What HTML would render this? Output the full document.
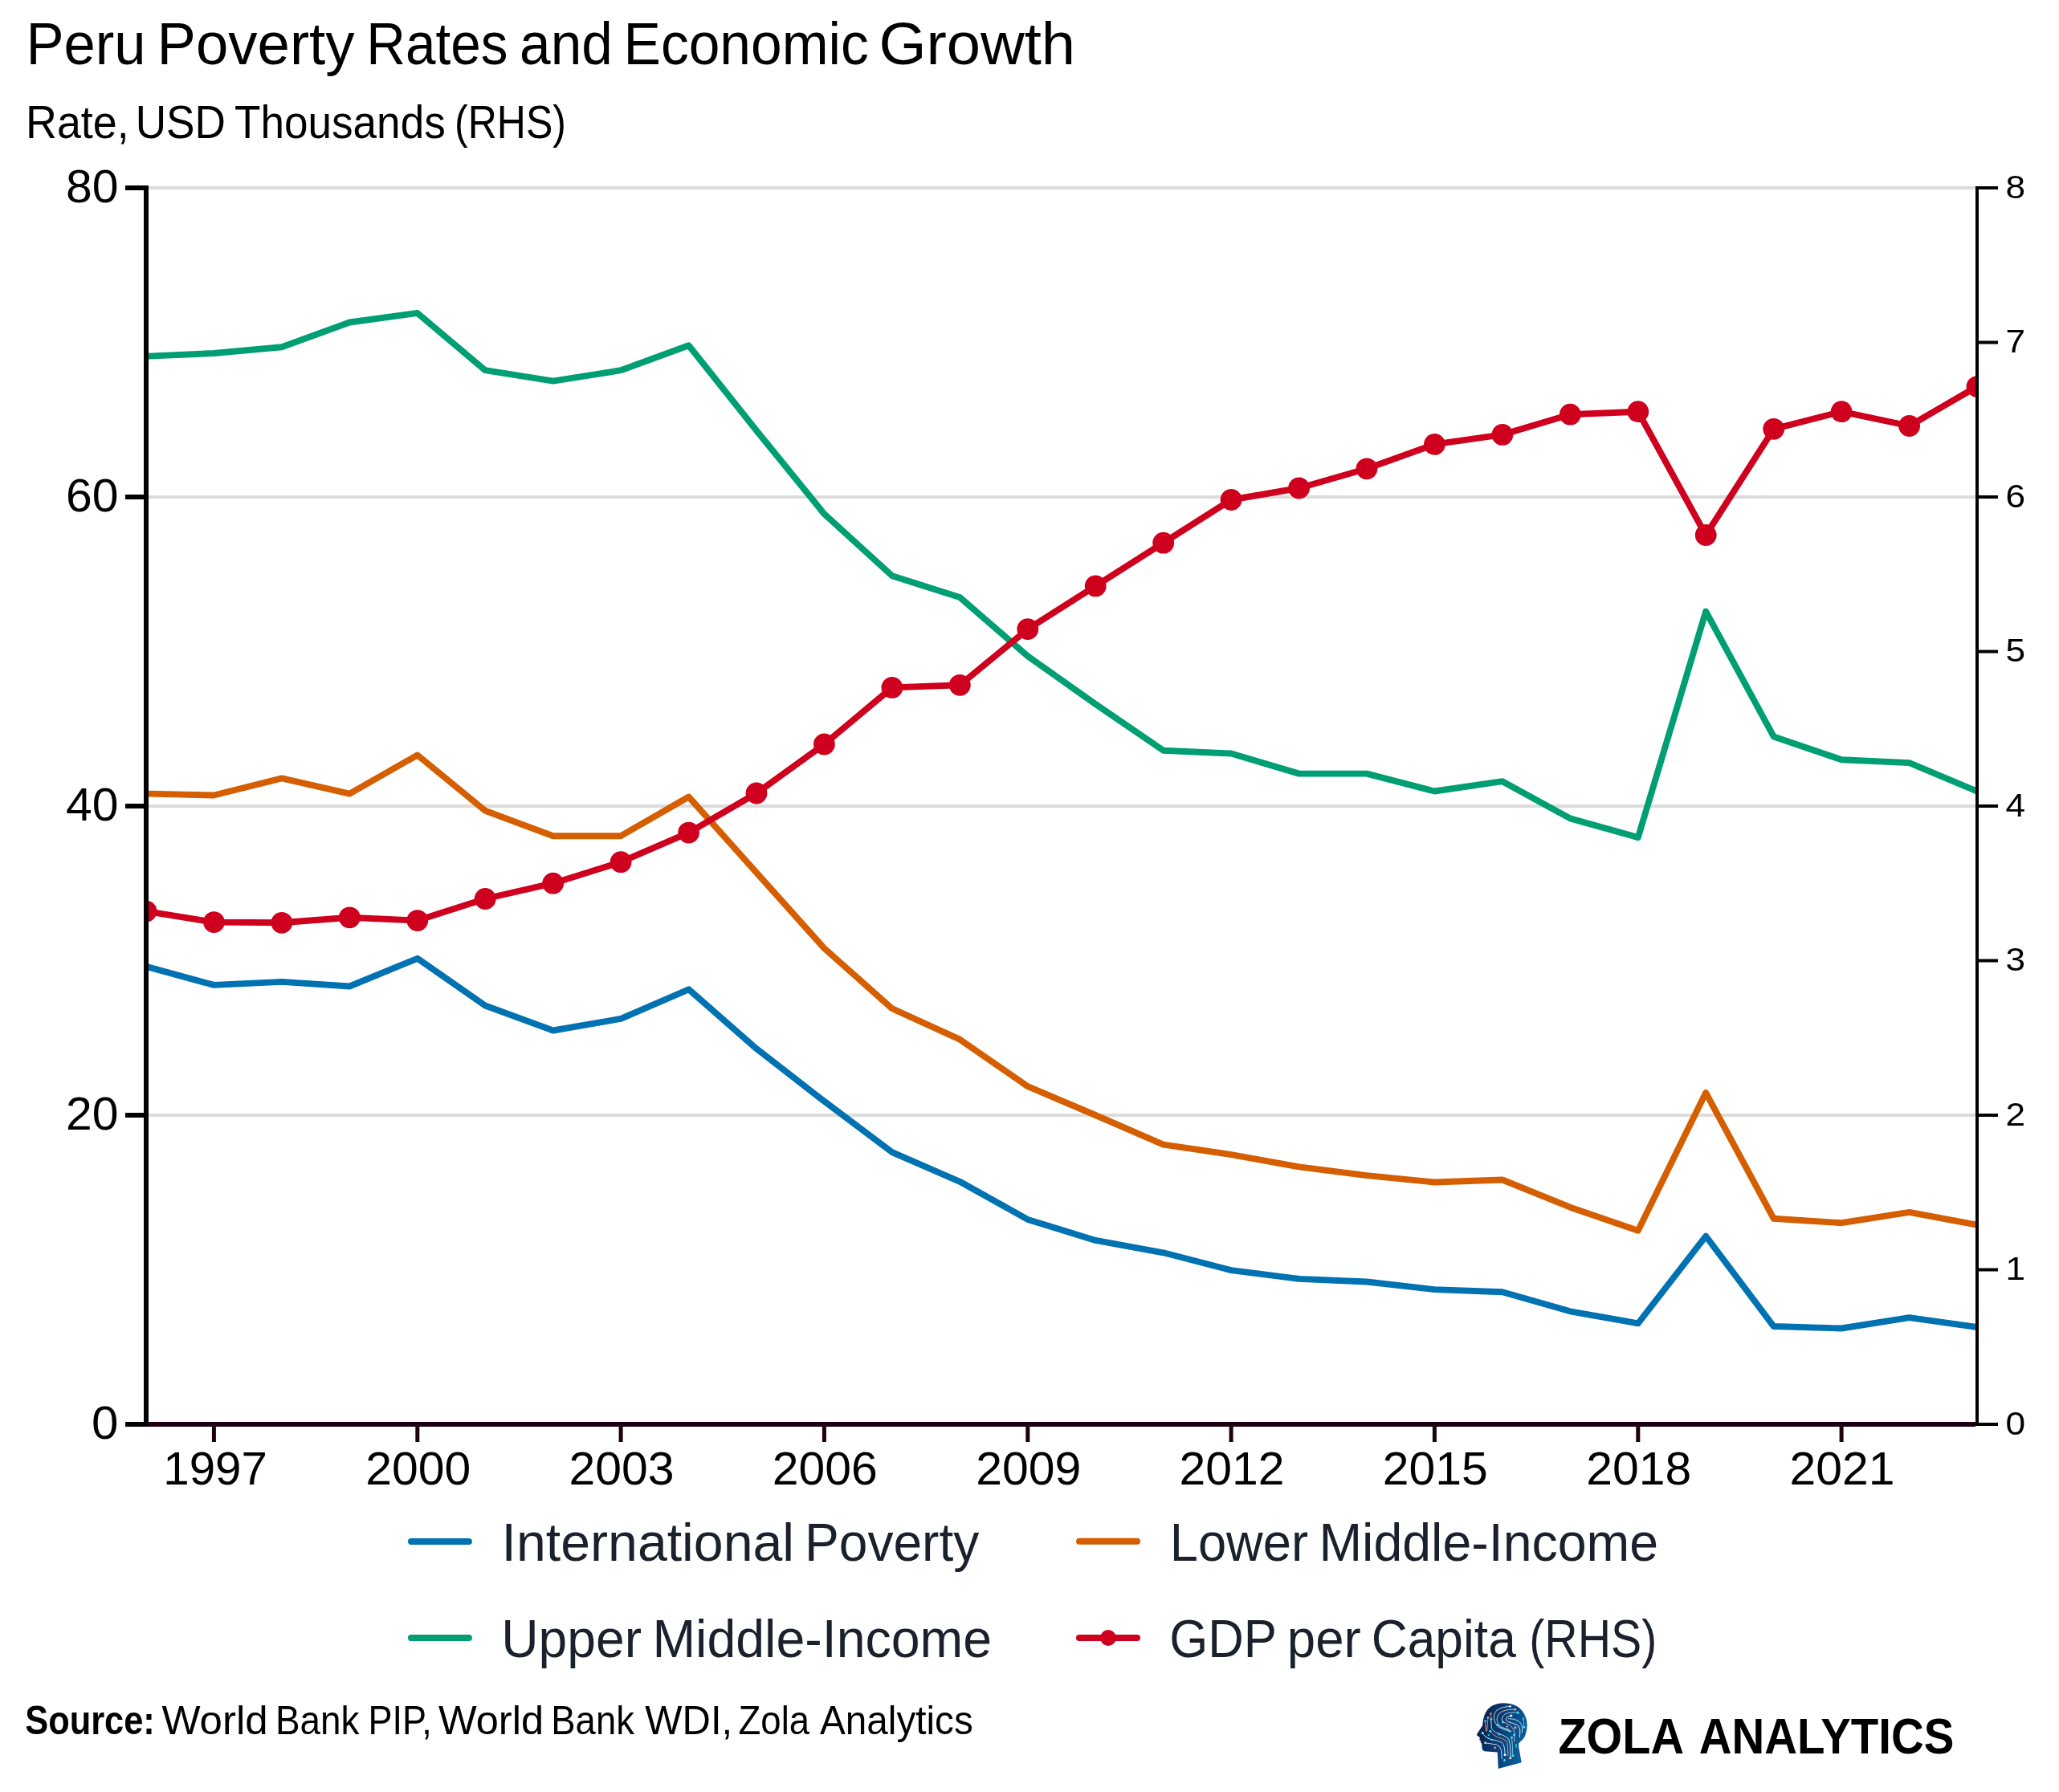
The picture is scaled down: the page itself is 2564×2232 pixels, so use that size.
<!DOCTYPE html><html><head><meta charset="utf-8"><style>html,body{margin:0;padding:0;background:#fff;width:2564px;height:2232px;overflow:hidden}svg{display:block;will-change:transform}text{font-family:"Liberation Sans",sans-serif}</style></head><body>
<svg width="2564" height="2232" viewBox="0 0 2564 2232">
<rect width="2564" height="2232" fill="#fff"/>
<text x="32.4" y="79.7" font-size="74" fill="#000" font-weight="normal" text-anchor="start" textLength="149.1" lengthAdjust="spacingAndGlyphs">Peru</text>
<text x="195.6" y="79.7" font-size="74" fill="#000" font-weight="normal" text-anchor="start" textLength="245.9" lengthAdjust="spacingAndGlyphs">Poverty</text>
<text x="456.3" y="79.7" font-size="74" fill="#000" font-weight="normal" text-anchor="start" textLength="176.2" lengthAdjust="spacingAndGlyphs">Rates</text>
<text x="647.1" y="79.7" font-size="74" fill="#000" font-weight="normal" text-anchor="start" textLength="115.8" lengthAdjust="spacingAndGlyphs">and</text>
<text x="776.5" y="79.7" font-size="74" fill="#000" font-weight="normal" text-anchor="start" textLength="305.3" lengthAdjust="spacingAndGlyphs">Economic</text>
<text x="1094.4" y="79.7" font-size="74" fill="#000" font-weight="normal" text-anchor="start" textLength="244.7" lengthAdjust="spacingAndGlyphs">Growth</text>
<text x="32.0" y="171.5" font-size="57" fill="#000" font-weight="normal" text-anchor="start" textLength="128.7" lengthAdjust="spacingAndGlyphs">Rate,</text>
<text x="168.7" y="171.5" font-size="57" fill="#000" font-weight="normal" text-anchor="start" textLength="112.2" lengthAdjust="spacingAndGlyphs">USD</text>
<text x="292.1" y="171.5" font-size="57" fill="#000" font-weight="normal" text-anchor="start" textLength="262.6" lengthAdjust="spacingAndGlyphs">Thousands</text>
<text x="566.0" y="171.5" font-size="57" fill="#000" font-weight="normal" text-anchor="start" textLength="138.9" lengthAdjust="spacingAndGlyphs">(RHS)</text>
<text x="624.6" y="1943.8" font-size="67" fill="#1a202c" font-weight="normal" text-anchor="start" textLength="364.4" lengthAdjust="spacingAndGlyphs">International</text>
<text x="1002.1" y="1943.8" font-size="67" fill="#1a202c" font-weight="normal" text-anchor="start" textLength="217.2" lengthAdjust="spacingAndGlyphs">Poverty</text>
<text x="624.2" y="2063.8" font-size="67" fill="#1a202c" font-weight="normal" text-anchor="start" textLength="174.9" lengthAdjust="spacingAndGlyphs">Upper</text>
<text x="812.4" y="2063.8" font-size="67" fill="#1a202c" font-weight="normal" text-anchor="start" textLength="422.7" lengthAdjust="spacingAndGlyphs">Middle-Income</text>
<text x="1456.7" y="1943.8" font-size="67" fill="#1a202c" font-weight="normal" text-anchor="start" textLength="172.4" lengthAdjust="spacingAndGlyphs">Lower</text>
<text x="1642.4" y="1943.8" font-size="67" fill="#1a202c" font-weight="normal" text-anchor="start" textLength="422.7" lengthAdjust="spacingAndGlyphs">Middle-Income</text>
<text x="1456.2" y="2063.8" font-size="67" fill="#1a202c" font-weight="normal" text-anchor="start" textLength="133.7" lengthAdjust="spacingAndGlyphs">GDP</text>
<text x="1602.8" y="2063.8" font-size="67" fill="#1a202c" font-weight="normal" text-anchor="start" textLength="91.9" lengthAdjust="spacingAndGlyphs">per</text>
<text x="1707.7" y="2063.8" font-size="67" fill="#1a202c" font-weight="normal" text-anchor="start" textLength="180.1" lengthAdjust="spacingAndGlyphs">Capita</text>
<text x="1904.3" y="2063.8" font-size="67" fill="#1a202c" font-weight="normal" text-anchor="start" textLength="159.0" lengthAdjust="spacingAndGlyphs">(RHS)</text>
<text x="31.2" y="2159.9" font-size="49.5" fill="#000" font-weight="bold" text-anchor="start" textLength="161.6" lengthAdjust="spacingAndGlyphs">Source:</text>
<text x="201.4" y="2159.9" font-size="49.5" fill="#000" font-weight="normal" text-anchor="start" textLength="132.3" lengthAdjust="spacingAndGlyphs">World</text>
<text x="342.9" y="2159.9" font-size="49.5" fill="#000" font-weight="normal" text-anchor="start" textLength="104.5" lengthAdjust="spacingAndGlyphs">Bank</text>
<text x="458.6" y="2159.9" font-size="49.5" fill="#000" font-weight="normal" text-anchor="start" textLength="79.2" lengthAdjust="spacingAndGlyphs">PIP,</text>
<text x="546.0" y="2159.9" font-size="49.5" fill="#000" font-weight="normal" text-anchor="start" textLength="131.0" lengthAdjust="spacingAndGlyphs">World</text>
<text x="686.3" y="2159.9" font-size="49.5" fill="#000" font-weight="normal" text-anchor="start" textLength="103.6" lengthAdjust="spacingAndGlyphs">Bank</text>
<text x="803.3" y="2159.9" font-size="49.5" fill="#000" font-weight="normal" text-anchor="start" textLength="108.8" lengthAdjust="spacingAndGlyphs">WDI,</text>
<text x="919.5" y="2159.9" font-size="49.5" fill="#000" font-weight="normal" text-anchor="start" textLength="88.6" lengthAdjust="spacingAndGlyphs">Zola</text>
<text x="1021.0" y="2159.9" font-size="49.5" fill="#000" font-weight="normal" text-anchor="start" textLength="190.8" lengthAdjust="spacingAndGlyphs">Analytics</text>
<text x="1940.4" y="2183.7" font-size="62.5" fill="#000" font-weight="bold" text-anchor="start" textLength="156.6" lengthAdjust="spacingAndGlyphs">ZOLA</text>
<text x="2115.7" y="2183.7" font-size="62.5" fill="#000" font-weight="bold" text-anchor="start" textLength="317.7" lengthAdjust="spacingAndGlyphs">ANALYTICS</text>
<rect x="185" y="1387.0" width="2275" height="4" fill="#dcdcdc"/>
<rect x="185" y="1002.0" width="2275" height="4" fill="#dcdcdc"/>
<rect x="185" y="617.0" width="2275" height="4" fill="#dcdcdc"/>
<rect x="185" y="232.0" width="2275" height="4" fill="#dcdcdc"/>
<rect x="179" y="231" width="6" height="1546" fill="#000"/>
<rect x="156" y="1771.0" width="29" height="6" fill="#000"/>
<text x="147.5" y="1791.5" font-size="57" fill="#000" font-weight="normal" text-anchor="end" textLength="33.4" lengthAdjust="spacingAndGlyphs">0</text>
<rect x="156" y="1386.0" width="29" height="6" fill="#000"/>
<text x="147.5" y="1406.5" font-size="57" fill="#000" font-weight="normal" text-anchor="end" textLength="65.5" lengthAdjust="spacingAndGlyphs">20</text>
<rect x="156" y="1001.0" width="29" height="6" fill="#000"/>
<text x="147.5" y="1021.5" font-size="57" fill="#000" font-weight="normal" text-anchor="end" textLength="65.5" lengthAdjust="spacingAndGlyphs">40</text>
<rect x="156" y="616.0" width="29" height="6" fill="#000"/>
<text x="147.5" y="636.5" font-size="57" fill="#000" font-weight="normal" text-anchor="end" textLength="65.5" lengthAdjust="spacingAndGlyphs">60</text>
<rect x="156" y="231.0" width="29" height="6" fill="#000"/>
<text x="147.5" y="251.5" font-size="57" fill="#000" font-weight="normal" text-anchor="end" textLength="65.5" lengthAdjust="spacingAndGlyphs">80</text>
<rect x="2460" y="232" width="4" height="1544" fill="#000"/>
<rect x="2460" y="1772.0" width="28" height="4" fill="#000"/>
<text x="2497.5" y="1786.5" font-size="41" fill="#000" font-weight="normal" text-anchor="start" textLength="24.6" lengthAdjust="spacingAndGlyphs">0</text>
<rect x="2460" y="1579.5" width="28" height="4" fill="#000"/>
<text x="2497.5" y="1594.0" font-size="41" fill="#000" font-weight="normal" text-anchor="start" textLength="24.6" lengthAdjust="spacingAndGlyphs">1</text>
<rect x="2460" y="1387.0" width="28" height="4" fill="#000"/>
<text x="2497.5" y="1401.5" font-size="41" fill="#000" font-weight="normal" text-anchor="start" textLength="24.6" lengthAdjust="spacingAndGlyphs">2</text>
<rect x="2460" y="1194.5" width="28" height="4" fill="#000"/>
<text x="2497.5" y="1209.0" font-size="41" fill="#000" font-weight="normal" text-anchor="start" textLength="24.6" lengthAdjust="spacingAndGlyphs">3</text>
<rect x="2460" y="1002.0" width="28" height="4" fill="#000"/>
<text x="2497.5" y="1016.5" font-size="41" fill="#000" font-weight="normal" text-anchor="start" textLength="24.6" lengthAdjust="spacingAndGlyphs">4</text>
<rect x="2460" y="809.5" width="28" height="4" fill="#000"/>
<text x="2497.5" y="824.0" font-size="41" fill="#000" font-weight="normal" text-anchor="start" textLength="24.6" lengthAdjust="spacingAndGlyphs">5</text>
<rect x="2460" y="617.0" width="28" height="4" fill="#000"/>
<text x="2497.5" y="631.5" font-size="41" fill="#000" font-weight="normal" text-anchor="start" textLength="24.6" lengthAdjust="spacingAndGlyphs">6</text>
<rect x="2460" y="424.5" width="28" height="4" fill="#000"/>
<text x="2497.5" y="439.0" font-size="41" fill="#000" font-weight="normal" text-anchor="start" textLength="24.6" lengthAdjust="spacingAndGlyphs">7</text>
<rect x="2460" y="232.0" width="28" height="4" fill="#000"/>
<text x="2497.5" y="246.5" font-size="41" fill="#000" font-weight="normal" text-anchor="start" textLength="24.6" lengthAdjust="spacingAndGlyphs">8</text>
<rect x="185" y="1771" width="2275" height="6" fill="#1e0012"/>
<rect x="263.9" y="1776" width="5" height="20" fill="#1e0012"/>
<text x="268.1" y="1849.4" font-size="57" fill="#000" font-weight="normal" text-anchor="middle" textLength="129.5" lengthAdjust="spacingAndGlyphs">1997</text>
<rect x="517.3" y="1776" width="5" height="20" fill="#1e0012"/>
<text x="520.7" y="1849.4" font-size="57" fill="#000" font-weight="normal" text-anchor="middle" textLength="131.0" lengthAdjust="spacingAndGlyphs">2000</text>
<rect x="770.6" y="1776" width="5" height="20" fill="#1e0012"/>
<text x="774.0" y="1849.4" font-size="57" fill="#000" font-weight="normal" text-anchor="middle" textLength="131.0" lengthAdjust="spacingAndGlyphs">2003</text>
<rect x="1023.9" y="1776" width="5" height="20" fill="#1e0012"/>
<text x="1027.3" y="1849.4" font-size="57" fill="#000" font-weight="normal" text-anchor="middle" textLength="131.0" lengthAdjust="spacingAndGlyphs">2006</text>
<rect x="1277.3" y="1776" width="5" height="20" fill="#1e0012"/>
<text x="1280.7" y="1849.4" font-size="57" fill="#000" font-weight="normal" text-anchor="middle" textLength="131.0" lengthAdjust="spacingAndGlyphs">2009</text>
<rect x="1530.6" y="1776" width="5" height="20" fill="#1e0012"/>
<text x="1534.0" y="1849.4" font-size="57" fill="#000" font-weight="normal" text-anchor="middle" textLength="131.0" lengthAdjust="spacingAndGlyphs">2012</text>
<rect x="1783.9" y="1776" width="5" height="20" fill="#1e0012"/>
<text x="1787.3" y="1849.4" font-size="57" fill="#000" font-weight="normal" text-anchor="middle" textLength="131.0" lengthAdjust="spacingAndGlyphs">2015</text>
<rect x="2037.3" y="1776" width="5" height="20" fill="#1e0012"/>
<text x="2040.7" y="1849.4" font-size="57" fill="#000" font-weight="normal" text-anchor="middle" textLength="131.0" lengthAdjust="spacingAndGlyphs">2018</text>
<rect x="2290.6" y="1776" width="5" height="20" fill="#1e0012"/>
<text x="2294.0" y="1849.4" font-size="57" fill="#000" font-weight="normal" text-anchor="middle" textLength="131.0" lengthAdjust="spacingAndGlyphs">2021</text>
<defs><clipPath id="pc"><rect x="185" y="200" width="2275" height="1571"/></clipPath></defs><g clip-path="url(#pc)">
<g fill="none" stroke-linejoin="round" stroke-linecap="round">
<polyline points="182.0,1203.8 266.4,1226.9 350.9,1222.9 435.3,1228.5 519.8,1193.8 604.2,1252.5 688.7,1283.5 773.1,1268.9 857.6,1232.3 942.0,1306.2 1026.4,1371.7 1110.9,1435.2 1195.3,1471.8 1279.8,1518.9 1364.2,1544.9 1448.7,1560.3 1533.1,1582.1 1617.6,1592.9 1702.0,1596.5 1786.4,1606.1 1870.9,1609.2 1955.3,1633.3 2039.8,1648.3 2124.2,1539.7 2208.7,1652.0 2293.1,1654.5 2377.6,1641.2 2462.0,1653.1" stroke="#0072B2" stroke-width="7.9"/>
<polyline points="182.0,988.6 266.4,990.5 350.9,969.4 435.3,988.6 519.8,940.5 604.2,1009.8 688.7,1041.2 773.1,1041.2 857.6,992.5 942.0,1086.8 1026.4,1181.1 1110.9,1256.2 1195.3,1294.7 1279.8,1353.2 1364.2,1389.0 1448.7,1425.6 1533.1,1438.1 1617.6,1453.3 1702.0,1464.1 1786.4,1472.5 1870.9,1469.5 1955.3,1503.7 2039.8,1532.8 2124.2,1361.1 2208.7,1517.8 2293.1,1523.2 2377.6,1509.9 2462.0,1525.7" stroke="#D55E00" stroke-width="7.9"/>
<polyline points="182.0,443.8 266.4,440.0 350.9,432.3 435.3,401.5 519.8,389.9 604.2,461.2 688.7,474.6 773.1,461.2 857.6,430.3 942.0,536.2 1026.4,640.2 1110.9,717.2 1195.3,744.1 1279.8,817.3 1364.2,877.0 1448.7,934.7 1533.1,938.5 1617.6,963.6 1702.0,963.6 1786.4,985.5 1870.9,973.2 1955.3,1019.4 2039.8,1043.1 2124.2,761.5 2208.7,917.4 2293.1,946.2 2377.6,950.1 2462.0,985.5" stroke="#009E73" stroke-width="7.9"/>
<polyline points="182.0,1135.1 266.4,1148.6 350.9,1149.3 435.3,1142.8 519.8,1146.6 604.2,1119.5 688.7,1100.2 773.1,1073.7 857.6,1037.1 942.0,988.0 1026.4,927.0 1110.9,856.4 1195.3,853.3 1279.8,783.6 1364.2,729.9 1448.7,676.2 1533.1,622.5 1617.6,608.0 1702.0,583.8 1786.4,553.4 1870.9,541.4 1955.3,516.2 2039.8,512.7 2124.2,666.5 2208.7,534.3 2293.1,512.7 2377.6,530.5 2462.0,481.4" stroke="#CF001D" stroke-width="7.9"/>
</g>
<g fill="#CF001D">
<circle cx="182.0" cy="1135.1" r="13.4"/>
<circle cx="266.4" cy="1148.6" r="13.4"/>
<circle cx="350.9" cy="1149.3" r="13.4"/>
<circle cx="435.3" cy="1142.8" r="13.4"/>
<circle cx="519.8" cy="1146.6" r="13.4"/>
<circle cx="604.2" cy="1119.5" r="13.4"/>
<circle cx="688.7" cy="1100.2" r="13.4"/>
<circle cx="773.1" cy="1073.7" r="13.4"/>
<circle cx="857.6" cy="1037.1" r="13.4"/>
<circle cx="942.0" cy="988.0" r="13.4"/>
<circle cx="1026.4" cy="927.0" r="13.4"/>
<circle cx="1110.9" cy="856.4" r="13.4"/>
<circle cx="1195.3" cy="853.3" r="13.4"/>
<circle cx="1279.8" cy="783.6" r="13.4"/>
<circle cx="1364.2" cy="729.9" r="13.4"/>
<circle cx="1448.7" cy="676.2" r="13.4"/>
<circle cx="1533.1" cy="622.5" r="13.4"/>
<circle cx="1617.6" cy="608.0" r="13.4"/>
<circle cx="1702.0" cy="583.8" r="13.4"/>
<circle cx="1786.4" cy="553.4" r="13.4"/>
<circle cx="1870.9" cy="541.4" r="13.4"/>
<circle cx="1955.3" cy="516.2" r="13.4"/>
<circle cx="2039.8" cy="512.7" r="13.4"/>
<circle cx="2124.2" cy="666.5" r="13.4"/>
<circle cx="2208.7" cy="534.3" r="13.4"/>
<circle cx="2293.1" cy="512.7" r="13.4"/>
<circle cx="2377.6" cy="530.5" r="13.4"/>
<circle cx="2462.0" cy="481.4" r="13.4"/>
</g></g>
<line x1="511.9" y1="1919.9" x2="583.9" y2="1919.9" stroke="#0072B2" stroke-width="8" stroke-linecap="round"/>
<line x1="511.9" y1="2040" x2="583.9" y2="2040" stroke="#009E73" stroke-width="8" stroke-linecap="round"/>
<line x1="1344.0" y1="1919.8" x2="1416.0" y2="1919.8" stroke="#D55E00" stroke-width="8" stroke-linecap="round"/>
<line x1="1344.0" y1="2040" x2="1416.0" y2="2040" stroke="#CF001D" stroke-width="8" stroke-linecap="round"/><circle cx="1380.0" cy="2040" r="9.9" fill="#CF001D"/>
<g transform="translate(1830,2110) scale(0.055788)">
<defs><linearGradient id="hg" gradientUnits="userSpaceOnUse" x1="160" y1="700" x2="1290" y2="1000"><stop offset="0" stop-color="#0a1c48"/><stop offset="0.45" stop-color="#0b3c74"/><stop offset="1" stop-color="#0a62a0"/></linearGradient></defs>
<path d="M640,1665 L622,1300 L330,1275 Q280,1255 280,1220 L270,1100 L240,1080 L255,1060 L215,1010 L235,985 L215,960 L165,925 L160,900 L290,700 Q295,610 310,550 Q380,200 780,200 Q1060,205 1180,380 Q1285,520 1285,700 Q1275,900 1200,1000 L1100,1100 Q1090,1150 1100,1200 L1160,1530 Z" fill="url(#hg)"/>
<g fill="none" stroke-width="15" stroke-linecap="round">
<path d="M905,275 Q720,285 610,360 Q540,430 545,540 Q550,650 640,730 Q740,800 900,830" stroke="#e6f3ff"/>
<path d="M1015,345 Q800,335 690,410 Q610,480 610,560 Q615,680 720,740 Q800,775 870,785" stroke="#f4d6cc"/>
<path d="M1080,415 Q900,395 790,450 Q720,500 720,560 Q725,610 745,625" stroke="#a8ecf7"/>
<path d="M930,485 Q840,495 815,540 Q800,590 850,615 Q960,650 1060,690 Q1130,740 1125,840 L1120,960" stroke="#ffffff"/>
<path d="M870,550 Q1000,545 1090,600 Q1170,660 1175,760 L1170,860" stroke="#dfeeff"/>
<path d="M1205,545 Q1210,640 1215,740" stroke="#5fdcef"/>
<path d="M745,625 Q840,650 900,700 Q990,760 1000,850 L1000,1060" stroke="#f2b8a0"/>
<path d="M620,685 Q700,760 820,780 Q900,800 910,830" stroke="#7fe3f2"/>
<path d="M290,870 Q330,960 480,1010 Q640,1040 720,1080 Q790,1140 790,1360" stroke="#dff6ff"/>
<path d="M350,950 Q420,1000 520,1040" stroke="#62dcef"/>
<path d="M350,1090 Q480,1110 600,1130 Q690,1160 710,1260 L720,1440" stroke="#e8f4ff"/>
<path d="M460,830 Q520,920 620,960 Q760,990 830,1060 Q860,1120 855,1370" stroke="#f2a98f"/>
<path d="M480,560 L490,760 Q520,840 640,880 Q780,920 860,990 Q920,1050 915,1430" stroke="#eef6ff"/>
<path d="M410,525 L390,820" stroke="#f09a7a"/>
<path d="M475,440 L480,540" stroke="#f09a7a"/>
<path d="M350,600 L370,830" stroke="#f0a088"/>
<path d="M940,970 Q960,1100 965,1380" stroke="#7fe3f2"/>
<path d="M1040,1140 L1040,1200" stroke="#5fdcef"/>
</g>
<g>
<circle cx="905" cy="275" r="24" fill="#c9f4ff"/><circle cx="1015" cy="345" r="26" fill="#f59a78"/>
<circle cx="1080" cy="415" r="28" fill="#36dcef"/><circle cx="930" cy="485" r="26" fill="#ffffff"/>
<circle cx="1205" cy="545" r="20" fill="#36dcef"/><circle cx="1215" cy="740" r="28" fill="#36dcef"/>
<circle cx="475" cy="440" r="22" fill="#f59a78"/><circle cx="410" cy="525" r="24" fill="#f59a78"/>
<circle cx="350" cy="600" r="24" fill="#36dcef"/><circle cx="480" cy="560" r="28" fill="#36dcef"/>
<circle cx="745" cy="625" r="28" fill="#36dcef"/><circle cx="620" cy="685" r="28" fill="#36dcef"/>
<circle cx="840" cy="725" r="16" fill="#ffffff"/><circle cx="1020" cy="750" r="28" fill="#f59a78"/>
<circle cx="460" cy="830" r="28" fill="#36dcef"/><circle cx="900" cy="830" r="28" fill="#36dcef"/>
<circle cx="660" cy="895" r="26" fill="#36dcef"/><circle cx="995" cy="910" r="28" fill="#36dcef"/>
<circle cx="290" cy="870" r="26" fill="#9ee8ee"/><circle cx="425" cy="915" r="20" fill="#36dcef"/>
<circle cx="940" cy="970" r="28" fill="#36dcef"/><circle cx="350" cy="1090" r="22" fill="#dff2ff"/>
<circle cx="565" cy="1200" r="24" fill="#f59a78"/><circle cx="1040" cy="1140" r="20" fill="#36dcef"/>
<circle cx="790" cy="1360" r="26" fill="#ffffff"/><circle cx="970" cy="1375" r="28" fill="#36dcef"/>
<circle cx="910" cy="1430" r="28" fill="#fcd2a8"/><circle cx="780" cy="1480" r="26" fill="#36dcef"/>
</g></g>
</svg></body></html>
